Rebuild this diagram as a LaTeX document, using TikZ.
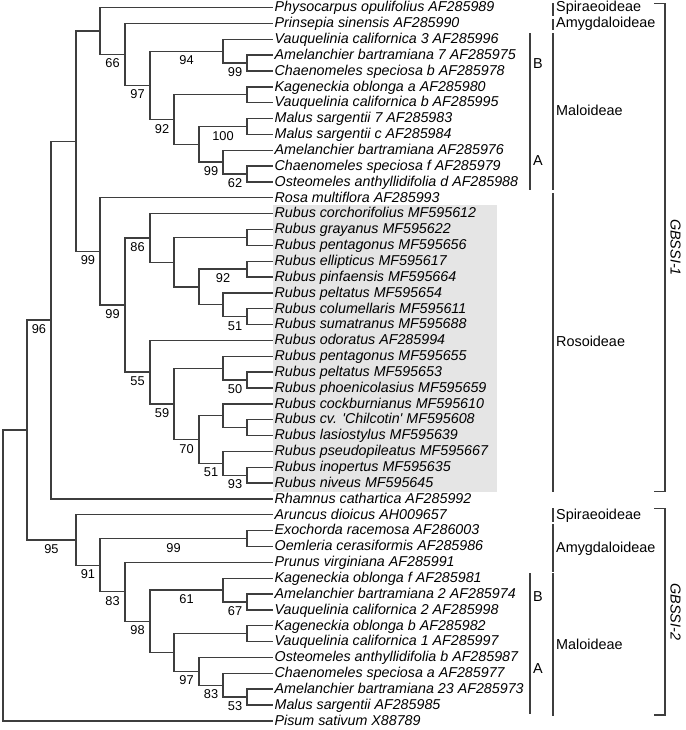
\documentclass[tikz,border=0pt]{standalone}
\usepackage{fontspec}
\setmainfont{Liberation Sans}
\definecolor{branch}{RGB}{62,62,62}
\definecolor{rubusbox}{RGB}{229,229,229}

\begin{document}
\begin{tikzpicture}[x=0.75pt, y=-0.75pt, line width=1pt, line cap=rect,
  taxon/.style={anchor=west, inner sep=1.5pt, text height=7.2pt, text depth=0.8pt, font=\fontsize{10.7}{12}\selectfont\itshape},
  support/.style={below=1.7pt, pos=0.75, inner sep=1pt, text height=7pt, text depth=0pt, font=\fontsize{9.6}{11}\selectfont},
  group/.style={anchor=west, inner sep=0pt, text height=7.2pt, text depth=0.8pt, font=\fontsize{10.8}{12}\selectfont},
  gene/.style={rotate=-90, inner sep=0pt, font=\fontsize{10.8}{12}\selectfont\itshape},
  tree/.style={draw=branch},
  bar/.style={draw=branch}]
            \useasboundingbox (0,0) rectangle (685,730);
            \fill[rubusbox] (273.3,205) rectangle (496.7,491.7);

            % GBSSI-1, upper part
            \node[taxon] (a1) at (272,7.6) {Physocarpus opulifolius AF285989};
            \node[taxon] (a2) at (272,23.45) {Prinsepia sinensis AF285990};
            \node[taxon] (a3) at (272,39.3) {Vauquelinia californica 3 AF285996};
            \node[taxon] (a4) at (272,55.15) {Amelanchier bartramiana 7 AF285975};
            \node[taxon] (a5) at (272,71.0) {Chaenomeles speciosa b AF285978};
            \node[taxon] (a6) at (272,86.85) {Kageneckia oblonga a AF285980};
            \node[taxon] (a7) at (272,102.7) {Vauquelinia californica b AF285995};
            \node[taxon] (a8) at (272,118.55) {Malus sargentii 7 AF285983};
            \node[taxon] (a9) at (272,134.4) {Malus sargentii c AF285984};
            \node[taxon] (a10) at (272,150.25) {Amelanchier bartramiana AF285976};
            \node[taxon] (a11) at (272,166.1) {Chaenomeles speciosa f AF285979};
            \node[taxon] (a12) at (272,181.95) {Osteomeles anthyllidifolia d AF285988};

            \coordinate (u1) at (100,31.0);
            \coordinate (u2) at (125,54.4);
            \coordinate (u3) at (150,85.4);
            \coordinate (u4) at (223,51.2);
            \coordinate (u5) at (247,63.1);
            \coordinate (u6) at (174,119.55);
            \coordinate (u7) at (247,94.8);
            \coordinate (u8) at (199,144.3);
            \coordinate (u9) at (247,126.5);
            \coordinate (u10) at (223,162.1);
            \coordinate (u11) at (247,174.0);

            \draw[tree] (u1) |- (a1.west);
            \draw[tree] (u1) |- (u2) node[support] {66};
            \draw[tree] (u2) |- (a2.west);
            \draw[tree] (u2) |- (u3) node[support] {97};
            \draw[tree] (u3) |- (u4) node[support] {94};
            \draw[tree] (u3) |- (u6) node[support] {92};
            \draw[tree] (u4) |- (a3.west);
            \draw[tree] (u4) |- (u5) node[support] {99};
            \draw[tree] (u5) |- (a4.west);
            \draw[tree] (u5) |- (a5.west);
            \draw[tree] (u6) |- (u7);
            \draw[tree] (u6) |- (u8);
            \draw[tree] (u7) |- (a6.west);
            \draw[tree] (u7) |- (a7.west);
            \draw[tree] (u8) |- (u9) node[support] {100};
            \draw[tree] (u8) |- (u10) node[support] {99};
            \draw[tree] (u9) |- (a8.west);
            \draw[tree] (u9) |- (a9.west);
            \draw[tree] (u10) |- (a10.west);
            \draw[tree] (u10) |- (u11) node[support] {62};
            \draw[tree] (u11) |- (a11.west);
            \draw[tree] (u11) |- (a12.west);

            % GBSSI-1, Rosoideae
            \node[taxon] (b1) at (272,197.8) {Rosa multiflora AF285993};
            \node[taxon] (b2) at (272,213.65) {Rubus corchorifolius MF595612};
            \node[taxon] (b3) at (272,229.5) {Rubus grayanus MF595622};
            \node[taxon] (b4) at (272,245.35) {Rubus pentagonus MF595656};
            \node[taxon] (b5) at (272,261.2) {Rubus ellipticus MF595617};
            \node[taxon] (b6) at (272,277.05) {Rubus pinfaensis MF595664};
            \node[taxon] (b7) at (272,292.9) {Rubus peltatus MF595654};
            \node[taxon] (b8) at (272,308.75) {Rubus columellaris MF595611};
            \node[taxon] (b9) at (272,324.6) {Rubus sumatranus MF595688};
            \node[taxon] (b10) at (272,340.45) {Rubus odoratus AF285994};
            \node[taxon] (b11) at (272,356.3) {Rubus pentagonus MF595655};
            \node[taxon] (b12) at (272,372.15) {Rubus peltatus MF595653};
            \node[taxon] (b13) at (272,388.0) {Rubus phoenicolasius MF595659};
            \node[taxon] (b14) at (272,403.85) {Rubus cockburnianus MF595610};
            \node[taxon] (b15) at (272,419.7) {Rubus cv. \textquotesingle Chilcotin\textquotesingle\ MF595608};
            \node[taxon] (b16) at (272,435.55) {Rubus lasiostylus MF595639};
            \node[taxon] (b17) at (272,451.4) {Rubus pseudopileatus MF595667};
            \node[taxon] (b18) at (272,467.25) {Rubus inopertus MF595635};
            \node[taxon] (b19) at (272,483.1) {Rubus niveus MF595645};
            \node[taxon] (b20) at (272,498.95) {Rhamnus cathartica AF285992};

            \coordinate (v1) at (100,251.4);
            \coordinate (v2) at (125,305.0);
            \coordinate (v3) at (150,237.9);
            \coordinate (v4) at (174,262.2);
            \coordinate (v5) at (247,237.4);
            \coordinate (v6) at (199,286.95);
            \coordinate (v7) at (247,269.1);
            \coordinate (v8) at (223,304.8);
            \coordinate (v9) at (247,316.7);
            \coordinate (v10) at (150,372.15);
            \coordinate (v11) at (174,403.85);
            \coordinate (v12) at (223,368.2);
            \coordinate (v13) at (247,380.1);
            \coordinate (v14) at (199,439.5);
            \coordinate (v15) at (223,415.7);
            \coordinate (v16) at (247,427.6);
            \coordinate (v17) at (223,463.3);
            \coordinate (v18) at (247,475.2);

            \draw[tree] (v1) |- (b1.west);
            \draw[tree] (v1) |- (v2) node[support] {99};
            \draw[tree] (v2) |- (v3) node[support] {86};
            \draw[tree] (v2) |- (v10) node[support] {55};
            \draw[tree] (v3) |- (b2.west);
            \draw[tree] (v3) |- (v4);
            \draw[tree] (v4) |- (v5);
            \draw[tree] (v4) |- (v6);
            \draw[tree] (v5) |- (b3.west);
            \draw[tree] (v5) |- (b4.west);
            \draw[tree] (v6) |- (v7) node[support] {92};
            \draw[tree] (v6) |- (v8);
            \draw[tree] (v7) |- (b5.west);
            \draw[tree] (v7) |- (b6.west);
            \draw[tree] (v8) |- (b7.west);
            \draw[tree] (v8) |- (v9) node[support] {51};
            \draw[tree] (v9) |- (b8.west);
            \draw[tree] (v9) |- (b9.west);
            \draw[tree] (v10) |- (b10.west);
            \draw[tree] (v10) |- (v11) node[support] {59};
            \draw[tree] (v11) |- (v12);
            \draw[tree] (v11) |- (v14) node[support] {70};
            \draw[tree] (v12) |- (b11.west);
            \draw[tree] (v12) |- (v13) node[support] {50};
            \draw[tree] (v13) |- (b12.west);
            \draw[tree] (v13) |- (b13.west);
            \draw[tree] (v14) |- (v15);
            \draw[tree] (v14) |- (v17) node[support] {51};
            \draw[tree] (v15) |- (b14.west);
            \draw[tree] (v15) |- (v16);
            \draw[tree] (v16) |- (b15.west);
            \draw[tree] (v16) |- (b16.west);
            \draw[tree] (v17) |- (b17.west);
            \draw[tree] (v17) |- (v18) node[support] {93};
            \draw[tree] (v18) |- (b18.west);
            \draw[tree] (v18) |- (b19.west);

            % GBSSI-2
            \node[taxon] (c1) at (272,514.8) {Aruncus dioicus AH009657};
            \node[taxon] (c2) at (272,530.65) {Exochorda racemosa AF286003};
            \node[taxon] (c3) at (272,546.5) {Oemleria cerasiformis AF285986};
            \node[taxon] (c4) at (272,562.35) {Prunus virginiana AF285991};
            \node[taxon] (c5) at (272,578.2) {Kageneckia oblonga f AF285981};
            \node[taxon] (c6) at (272,594.05) {Amelanchier bartramiana 2 AF285974};
            \node[taxon] (c7) at (272,609.9) {Vauquelinia californica 2 AF285998};
            \node[taxon] (c8) at (272,625.75) {Kageneckia oblonga b AF285982};
            \node[taxon] (c9) at (272,641.6) {Vauquelinia californica 1 AF285997};
            \node[taxon] (c10) at (272,657.45) {Osteomeles anthyllidifolia b AF285987};
            \node[taxon] (c11) at (272,673.3) {Chaenomeles speciosa a AF285977};
            \node[taxon] (c12) at (272,689.15) {Amelanchier bartramiana 23 AF285973};
            \node[taxon] (c13) at (272,705.0) {Malus sargentii AF285985};
            \node[taxon] (c14) at (272,720.85) {Pisum sativum X88789};

            \coordinate (w1) at (76,540.0);
            \coordinate (w2) at (100,565.2);
            \coordinate (w3) at (247,538.6);
            \coordinate (w4) at (125,591.8);
            \coordinate (w5) at (150,621.3);
            \coordinate (w6) at (223,590.1);
            \coordinate (w7) at (247,602.0);
            \coordinate (w8) at (174,652.5);
            \coordinate (w9) at (247,633.7);
            \coordinate (w10) at (199,671.3);
            \coordinate (w11) at (223,685.2);
            \coordinate (w12) at (247,697.1);

            \draw[tree] (w1) |- (c1.west);
            \draw[tree] (w1) |- (w2) node[support] {91};
            \draw[tree] (w2) |- (w3) node[support] {99};
            \draw[tree] (w2) |- (w4) node[support] {83};
            \draw[tree] (w3) |- (c2.west);
            \draw[tree] (w3) |- (c3.west);
            \draw[tree] (w4) |- (c4.west);
            \draw[tree] (w4) |- (w5) node[support] {98};
            \draw[tree] (w5) |- (w6) node[support] {61};
            \draw[tree] (w5) |- (w8);
            \draw[tree] (w6) |- (c5.west);
            \draw[tree] (w6) |- (w7) node[support] {67};
            \draw[tree] (w7) |- (c6.west);
            \draw[tree] (w7) |- (c7.west);
            \draw[tree] (w8) |- (w9);
            \draw[tree] (w8) |- (w10) node[support] {97};
            \draw[tree] (w9) |- (c8.west);
            \draw[tree] (w9) |- (c9.west);
            \draw[tree] (w10) |- (c10.west);
            \draw[tree] (w10) |- (w11) node[support] {83};
            \draw[tree] (w11) |- (c11.west);
            \draw[tree] (w11) |- (w12) node[support] {53};
            \draw[tree] (w12) |- (c12.west);
            \draw[tree] (w12) |- (c13.west);

            % backbone
            \coordinate (x0) at (3,575.45);
            \coordinate (x1) at (27,430.05);
            \coordinate (x2) at (51,320.1);
            \coordinate (x3) at (76,141.2);
            \draw[tree] (x0) |- (x1);
            \draw[tree] (x0) |- (c14.west);
            \draw[tree] (x1) |- (x2) node[support] {96};
            \draw[tree] (x1) |- (w1) node[support] {95};
            \draw[tree] (x2) |- (x3);
            \draw[tree] (x2) |- (b20.west);
            \draw[tree] (x3) |- (u1);
            \draw[tree] (x3) |- (v1) node[support] {99};

            % subfamilies and clades
            \draw[bar] (553,3.3) -- (553,15);
            \draw[bar] (553,19.3) -- (553,29.3);
            \draw[bar] (553,33.3) -- (553,189.3);
            \draw[bar] (553,193.3) -- (553,491.7);
            \draw[bar] (530,33.3) -- (530,80);
            \draw[bar] (530,81.7) -- (530,189.3);
            \draw[bar] (553,508.3) -- (553,521.7);
            \draw[bar] (553,525) -- (553,571.7);
            \draw[bar] (553,574) -- (553,715);
            \draw[bar] (530,574) -- (530,618.3);
            \draw[bar] (530,620) -- (530,713.3);
            \draw[bar] (655,3.3) -- (665,3.3) -- (665,491.7) -- (655,491.7);
            \draw[bar] (655,508.3) -- (665,508.3) -- (665,715) -- (655,715);

            \node[group] (sp1) at (555.5,7.6) {Spiraeoideae};
            \node[group] (am1) at (555.5,23.45) {Amygdaloideae};
            \node[group] (ma1) at (555.5,111.5) {Maloideae};
            \node[group] (ro1) at (555.5,342.5) {Rosoideae};
            \node[group] (cb1) at (532.5,64) {B};
            \node[group] (ca1) at (532.5,161) {A};
            \node[group] (sp2) at (555.5,514.8) {Spiraeoideae};
            \node[group] (am2) at (555.5,548.3) {Amygdaloideae};
            \node[group] (ma2) at (555.5,645.5) {Maloideae};
            \node[group] (cb2) at (532.5,597) {B};
            \node[group] (ca2) at (532.5,669) {A};
            \node[gene] (g1) at (675.5,247.5) {GBSSI-1};
            \node[gene] (g2) at (675.5,611.7) {GBSSI-2};
\end{tikzpicture}
\end{document}
